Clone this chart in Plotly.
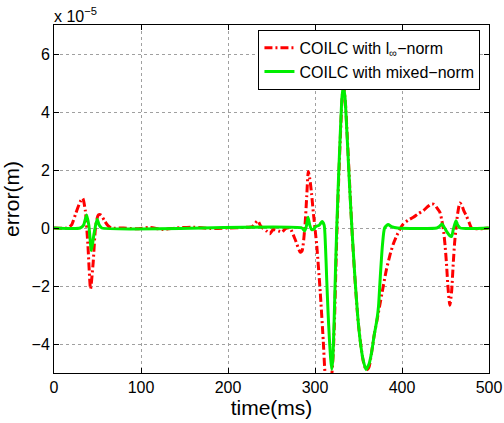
import plotly.graph_objects as go

# values in units of 1e-5 m
red_t = [0, 15, 20, 25, 30, 33, 36, 39, 42, 45, 48, 51, 54, 58, 62, 66, 80, 95, 110, 125, 140, 160, 180, 200,
         220, 228, 234, 238, 244, 248, 252, 258, 262, 266, 271, 277, 283, 285, 288.5, 290.5, 292.3, 294, 296, 298,
         302, 306, 309.5, 311.5, 313, 318, 319.5, 321, 322.5, 324, 325.5, 327.5, 329.5, 331.5, 333, 335, 337, 339,
         341, 343.5, 346.5, 349.5, 352.5, 355.5, 359, 362, 364, 368, 373, 378.5, 382, 386, 390, 394, 398, 401.5,
         407, 413, 419, 424.5, 430, 434, 437, 440, 443.5, 445.5, 447.5, 449.5, 451, 453, 455, 457, 459, 460.5,
         462, 464, 466.5, 468.5, 471, 474, 477, 480, 490, 500]
red_e = [0, 0, 0.1, 0.5, 0.9, 1.02, 0.6, -0.6, -2.1, -1.2, 0.1, 0.45, 0.45, 0.25, 0.08, 0, 0, -0.03, 0.02, -0.05,
         0, 0.03, -0.02, 0, 0.02, 0.05, 0.25, 0.05, -0.1, -0.2, -0.05, -0.1, -0.15, -0.02, 0, -0.38, -0.83, -0.8,
         0.1, 1.1, 1.95, 1.7, 1.2, 0.55, -0.6, -2.2, -3.9, -5.0, -5.3, -5.3, -5.0, -4.3, -3.1, -1.4, 0.2, 1.9, 3.4,
         4.6, 4.85, 4.3, 3.2, 2.0, 0.8, -0.6, -2.0, -3.2, -4.0, -4.6, -4.9, -4.8, -4.5, -3.7, -2.9, -2.0, -1.45,
         -0.95, -0.55, -0.26, -0.02, 0.14, 0.27, 0.37, 0.5, 0.6, 0.75, 0.83, 0.82, 0.7, 0.55, 0.3, -0.03, -0.6,
         -1.17, -2.1, -2.66, -2.2, -1.17, -0.5, -0.03, 0.5, 0.86, 0.8, 0.6, 0.42, 0.2, 0, -0.03, 0]

green_t = [0, 30, 34, 37.5, 40, 43, 46, 49.5, 52, 55, 285, 288, 290, 292, 294, 296, 298, 301, 305, 308, 310.5,
           312, 313.5, 315, 316.5, 318, 319.3, 320.5, 322, 323.5, 325, 327, 329, 331, 332.6, 334.5, 336.5, 338.5,
           340.5, 343, 346, 349, 352, 355, 358.6, 362, 365, 368, 371, 373, 375, 377.5, 380, 384, 388, 395, 440,
           443, 446, 449, 452, 455, 457, 459, 462, 464, 467, 500]
green_e = [0, 0, 0.1, 0.45, 0.1, -0.78, -0.2, 0.3, 0.1, 0, 0, -0.1, 0.05, 0.37, 0.1, -0.05, -0.05, 0.05, 0.1,
           0.22, 0.1, -0.6, -1.8, -2.9, -3.8, -4.5, -4.88, -4.5, -3.2, -1.5, 0.0, 1.7, 3.2, 4.5, 4.9, 4.5, 3.4,
           2.2, 1.0, -0.3, -1.76, -3.0, -3.9, -4.5, -4.88, -4.7, -4.3, -3.7, -3.2, -2.7, -1.7, -0.6, 0.0, 0.12,
           0.05, 0, 0, 0.05, 0.14, 0.0, -0.15, -0.27, -0.29, -0.05, 0.25, 0.1, 0, 0]

x_ticks = [0, 100, 200, 300, 400, 500]
y_ticks = [-4, -2, 0, 2, 4, 6]

FONT = "Liberation Sans, Arial, sans-serif"

fig = go.Figure()
fig.add_trace(go.Scatter(x=red_t, y=red_e, mode="lines",
                         name="COILC with l<sub>∞</sub>−norm",
                         line=dict(color="#ff0000", width=3, dash="8px,3px,2px,3px",
                                   shape="spline", smoothing=0.6)))
fig.add_trace(go.Scatter(x=green_t, y=green_e, mode="lines",
                         name="COILC with mixed−norm",
                         line=dict(color="#00ee00", width=3, shape="spline", smoothing=0.6)))

axis_common = dict(showline=True, linecolor="black", linewidth=1, mirror="allticks",
                   ticks="inside", ticklen=5, tickcolor="black", automargin=False,
                   showgrid=True, gridcolor="#a0a0a0", griddash="dot", gridwidth=1,
                   zeroline=False, tickfont=dict(family=FONT, size=16, color="black"))

fig.update_xaxes(range=[0, 500], tickvals=x_ticks, ticktext=[str(v) for v in x_ticks],
                 title=dict(text="time(ms)", font=dict(family=FONT, size=21, color="black"), standoff=2),
                 **axis_common)
fig.update_yaxes(range=[-5, 7], tickvals=y_ticks,
                 title=dict(text="error(m)", font=dict(family=FONT, size=21, color="black"), standoff=8),
                 **axis_common)

fig.add_annotation(text="x 10<sup>−5</sup>", xref="paper", yref="paper", x=0, y=1.0,
                   xanchor="left", yanchor="bottom", showarrow=False, xshift=-2, yshift=-2,
                   font=dict(family=FONT, size=16, color="black"))

fig.update_layout(
    width=504, height=423,
    margin=dict(l=54, r=15, t=25, b=50, autoexpand=False),
    paper_bgcolor="white", plot_bgcolor="white",
    showlegend=True,
    legend=dict(x=0.47, y=0.986, xanchor="left", yanchor="top",
                bgcolor="white", bordercolor="black", borderwidth=1,
                font=dict(family=FONT, size=16, color="black"),
                tracegroupgap=0, itemwidth=30),
)

fig.write_html("out.html")
